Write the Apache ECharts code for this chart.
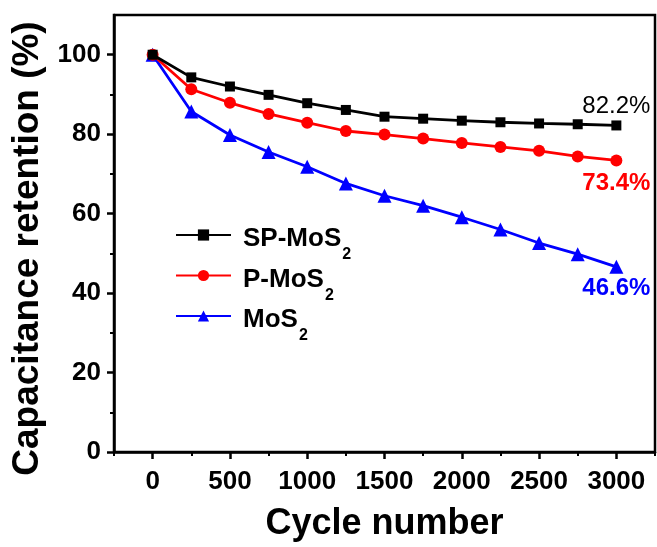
<!DOCTYPE html>
<html>
<head>
<meta charset="utf-8">
<script src="https://cdn.jsdelivr.net/npm/echarts@6/dist/echarts.min.js"></script>
<style>html,body{margin:0;padding:0;background:#fff}#c{width:657px;height:547px}</style>
</head>
<body>
<div id="c"></div>
<script>
var cycles = [0, 250, 500, 750, 1000, 1250, 1500, 1750, 2000, 2250, 2500, 2750, 3000];
var spMoS2 = [100, 94.3, 92.0, 89.9, 87.8, 86.1, 84.4, 83.9, 83.4, 83.0, 82.7, 82.5, 82.2];
var pMoS2 = [100, 91.3, 87.9, 85.1, 82.9, 80.8, 79.9, 78.9, 77.8, 76.8, 75.8, 74.4, 73.4];
var moS2 = [100, 85.7, 79.8, 75.5, 71.8, 67.6, 64.5, 62.0, 59.1, 56.0, 52.6, 49.8, 46.6];
var seriesNames = ['SP-MoS2', 'P-MoS2', 'MoS2'];
var endLabels = ['82.2%', '73.4%', '46.6%'];
var xMajorTicks = [0, 500, 1000, 1500, 2000, 2500, 3000];
var xMinorTicks = [-250, 250, 750, 1250, 1750, 2250, 2750, 3250];
var yMajorTicks = [0, 20, 40, 60, 80, 100];
var yMinorTicks = [10, 30, 50, 70, 90];

var FONT = 'Liberation Sans, Arial, sans-serif';
var colors = ['#000000', '#ff0000', '#0000ff'];
var symbols = ['rect', 'circle', 'triangle'];
var symbolSizes = [10, 12, 14];
var labelPos = [['top', 2], ['bottom', 5], ['bottom', 3]];
var labelWeight = ['normal', 'bold', 'bold'];
var values = [spMoS2, pMoS2, moS2];

function buildData(arr, idx) {
  return arr.map(function (v, i) {
    var item = { value: [cycles[i], v] };
    if (i === arr.length - 1) {
      item.label = {
        show: true,
        position: labelPos[idx][0],
        distance: labelPos[idx][1],
        formatter: endLabels[idx],
        color: colors[idx],
        fontFamily: FONT,
        fontSize: 24,
        fontWeight: labelWeight[idx]
      };
    }
    return item;
  });
}

var series = values.map(function (arr, idx) {
  return {
    name: seriesNames[idx],
    type: 'line',
    xAxisIndex: 0,
    yAxisIndex: 0,
    data: buildData(arr, idx),
    symbol: symbols[idx],
    symbolSize: symbolSizes[idx],
    color: colors[idx],
    lineStyle: { width: 2.8, color: colors[idx] },
    itemStyle: { color: colors[idx] },
    animation: false,
    z: 5 - idx
  };
});

var axisLineStyle = { show: true, onZero: false, lineStyle: { color: '#000', width: 2.5 } };
var labelStyle = { color: '#000', fontFamily: FONT, fontSize: 26, fontWeight: 'bold', formatter: function (v) { return String(v); } };

var option = {
  animation: false,
  grid: { left: 114, right: 2, top: 15, bottom: 95, show: true, borderColor: '#000', borderWidth: 2.5, backgroundColor: 'transparent' },
  legend: {
    orient: 'vertical',
    left: 170,
    top: 217,
    itemWidth: 55,
    itemHeight: 14,
    itemGap: -0.5,
    data: seriesNames,
    formatter: function (name) {
      return '{m|' + name.slice(0, -1) + '}{s|' + name.slice(-1) + '}';
    },
    textStyle: {
      color: '#000',
      fontFamily: FONT,
      fontWeight: 'bold',
      fontSize: 26,
      rich: {
        m: { fontFamily: FONT, fontWeight: 'bold', fontSize: 26, lineHeight: 26, verticalAlign: 'top', padding: [4, 0, 0, 7], color: '#000' },
        s: { fontFamily: FONT, fontWeight: 'bold', fontSize: 16, lineHeight: 16, verticalAlign: 'top', padding: [25, 0, 0, 1], color: '#000' }
      }
    }
  },
  xAxis: [{
    type: 'value',
    min: -250, max: 3250, interval: 250,
    gridIndex: 0,
    axisLine: axisLineStyle,
    splitLine: { show: false },
    axisTick: { show: true, inside: false, length: 7, customValues: xMajorTicks, lineStyle: { color: '#000', width: 2.5 } },
    axisLabel: Object.assign({ margin: 17, customValues: xMajorTicks }, labelStyle),
    name: 'Cycle number',
    nameLocation: 'middle',
    nameGap: 54,
    nameTextStyle: { color: '#000', fontFamily: FONT, fontSize: 36, fontWeight: 'bold' }
  }, {
    type: 'value',
    min: -250, max: 3250, interval: 250,
    gridIndex: 0,
    position: 'bottom',
    axisLine: { show: false, onZero: false },
    splitLine: { show: false },
    axisTick: { show: true, inside: false, length: 4, customValues: xMinorTicks, lineStyle: { color: '#000', width: 2 } },
    axisLabel: { show: false }
  }],
  yAxis: [{
    type: 'value',
    min: 0, max: 110, interval: 10,
    gridIndex: 0,
    axisLine: axisLineStyle,
    splitLine: { show: false },
    axisTick: { show: true, inside: false, length: 7, customValues: yMajorTicks, lineStyle: { color: '#000', width: 2.5 } },
    axisLabel: Object.assign({ margin: 13, customValues: yMajorTicks }, labelStyle),
    name: 'Capacitance retention (%)',
    nameLocation: 'middle',
    nameGap: 65,
    nameTextStyle: { color: '#000', fontFamily: FONT, fontSize: 37, fontWeight: 'bold', padding: [0, 30, 0, 0] }
  }, {
    type: 'value',
    min: 0, max: 110, interval: 10,
    gridIndex: 0,
    position: 'left',
    axisLine: { show: false, onZero: false },
    splitLine: { show: false },
    axisTick: { show: true, inside: false, length: 4, customValues: yMinorTicks, lineStyle: { color: '#000', width: 2 } },
    axisLabel: { show: false }
  }],
  series: series
};

var chart = echarts.init(document.getElementById('c'), null, { renderer: 'canvas' });
chart.setOption(option);
</script>
</body>
</html>
